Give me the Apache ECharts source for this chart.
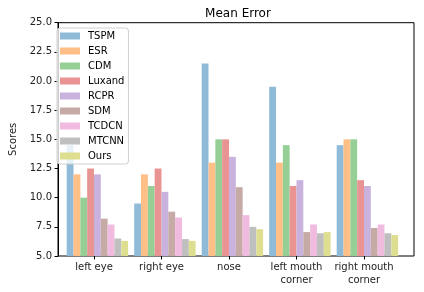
<!DOCTYPE html>
<html><head><meta charset="utf-8">
<script src="https://cdn.jsdelivr.net/npm/echarts@6/dist/echarts.min.js"></script>
<style>html,body{margin:0;padding:0;background:#fff}#c{width:424px;height:292px}</style>
</head><body><div id="c"></div>
<script>
const categories = ['left eye', 'right eye', 'nose', 'left mouth\ncorner', 'right mouth\ncorner'];
const seriesNames = ['TSPM', 'ESR', 'CDM', 'Luxand', 'RCPR', 'SDM', 'TCDCN', 'MTCNN', 'Ours'];
const TSPM   = [14.5, 9.5, 21.5, 19.5, 14.5];
const ESR    = [12.0, 12.0, 13.0, 13.0, 15.0];
const CDM    = [10.0, 11.0, 15.0, 14.5, 15.0];
const Luxand = [12.5, 12.5, 15.0, 11.0, 11.5];
const RCPR   = [12.0, 10.5, 13.5, 11.5, 11.0];
const SDM    = [8.2, 8.8, 10.9, 7.05, 7.4];
const TCDCN  = [7.7, 8.3, 8.5, 7.7, 7.7];
const MTCNN  = [6.5, 6.45, 7.5, 6.95, 6.95];
const Ours   = [6.3, 6.3, 7.3, 7.05, 6.8];
const yTicks = [5, 7.5, 10, 12.5, 15, 17.5, 20, 22.5, 25];
const colors = ['#8fbbd9', '#ffbf86', '#95cf95', '#ea9393', '#c9b3de', '#c5aaa5', '#f1bbe0', '#bfbfbf', '#dddE90'];
const values = [TSPM, ESR, CDM, Luxand, RCPR, SDM, TCDCN, MTCNN, Ours];

const font = 'DejaVu Sans';
const chart = echarts.init(document.getElementById('c'));
const tickShift = 0.05;
chart.setOption({
  animation: false,
  textStyle: { fontFamily: font },
  title: { text: 'Mean Error', left: 233, top: 3, textAlign: 'center',
    textStyle: { fontFamily: font, fontSize: 12, fontWeight: 'normal', color: '#000' } },
  legend: {
    orient: 'vertical', left: 57, top: 28, data: seriesNames,
    itemWidth: 20, itemHeight: 7, itemGap: 3, icon: 'rect',
    padding: [2, 4, 2, 3],
    backgroundColor: 'rgba(255,255,255,0.8)', borderColor: '#d0d0d0', borderWidth: 1, borderRadius: 3,
    textStyle: { fontFamily: font, fontSize: 10, color: '#000', lineHeight: 12, padding: [0, 0, 0, 3] }
  },
  grid: [
    { left: 52, right: 10, top: 22.7, bottom: 36, show: true, borderColor: '#000', borderWidth: 1, backgroundColor: 'transparent' },
    { left: 63.65, width: 337.5, top: 22.7, bottom: 36 }
  ],
  xAxis: [
    { gridIndex: 0, type: 'value', show: false, min: 0, max: 1 },
    { gridIndex: 1, type: 'category', data: categories, show: false, boundaryGap: true, position: 'bottom' },
    { gridIndex: 1, type: 'value', position: 'bottom', min: -0.5 + tickShift, max: categories.length - 0.5 + tickShift,
      axisLine: { show: false }, splitLine: { show: false },
      axisTick: { show: true, inside: false, length: 3.5, customValues: categories.map((c, i) => i), lineStyle: { color: '#000' } },
      axisLabel: { customValues: categories.map((c, i) => i), formatter: v => categories[Math.round(v)] || '',
        fontFamily: font, fontSize: 10, color: '#222', lineHeight: 13, margin: 5 } }
  ],
  yAxis: [
    { gridIndex: 0, type: 'value', min: 5, max: 25, interval: 2.5,
      name: 'Scores', nameLocation: 'middle', nameGap: 40,
      nameTextStyle: { fontFamily: font, fontSize: 10, color: '#222' },
      axisLine: { show: true, lineStyle: { color: '#000' } },
      axisTick: { show: true, length: 3.5, lineStyle: { color: '#000' } },
      splitLine: { show: false },
      axisLabel: { formatter: v => v.toFixed(1), fontFamily: font, fontSize: 10, color: '#222', margin: 6 } },
    { gridIndex: 1, type: 'value', min: 5, max: 25, interval: 2.5, show: false, splitLine: { show: false } }
  ],
  series: seriesNames.map((name, i) => ({
    name, type: 'bar', xAxisIndex: 1, yAxisIndex: 1,
    data: values[i], barGap: 0, barCategoryGap: '9%',
    itemStyle: { color: colors[i] }
  }))
});
</script></body></html>
